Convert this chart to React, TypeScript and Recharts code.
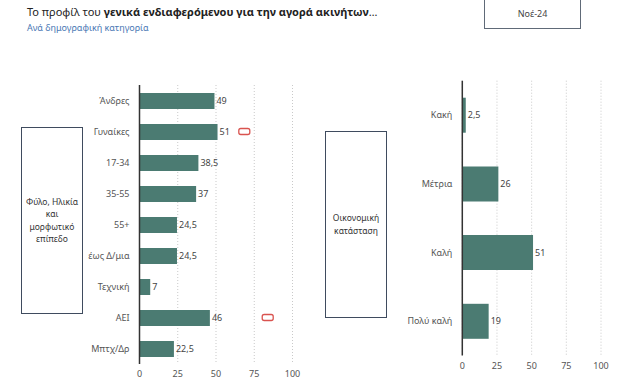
import { BarChart, Bar, XAxis, YAxis, CartesianGrid, LabelList, ReferenceDot } from "recharts";

const demoCategories = ["Άνδρες", "Γυναίκες", "17-34", "35-55", "55+", "έως Δ/μια", "Τεχνική", "ΑΕΙ", "Μπτχ/Δρ"];
const demoValues = [49, 51, 38.5, 37, 24.5, 24.5, 7, 46, 22.5];

const econCategories = ["Κακή", "Μέτρια", "Καλή", "Πολύ καλή"];
const econValues = [2.5, 26, 51, 19];

const xTicks = [0, 25, 50, 75, 100];

// small red markers next to some bars (category, value position)
const demoMarkers = [
  { category: "Γυναίκες", at: 68.5 },
  { category: "ΑΕΙ", at: 83.8 },
];

const BAR_COLOR = "#4b7b72";
const FONT = '"Noto Sans", sans-serif';

const demoData = demoCategories.map((name, i) => ({ name, value: demoValues[i] }));
const econData = econCategories.map((name, i) => ({ name, value: econValues[i] }));

const fmt = (v: any) => String(v).replace(".", ",");

const tickStyle = { fontSize: 9, fill: "#555", fontFamily: FONT };

const MarkerShape = (props: any) => (
  <rect
    x={props.cx - 5.5}
    y={props.cy - 3}
    width={11}
    height={6}
    rx={2}
    fill="none"
    stroke="#d9534f"
    strokeWidth={1.3}
  />
);

const HBarChart = ({
  data,
  width,
  height,
  margin,
  yWidth,
  barSize,
  markers = [],
}: {
  data: { name: string; value: number }[];
  width: number;
  height: number;
  margin: { top: number; right: number; bottom: number; left: number };
  yWidth: number;
  barSize: number;
  markers?: { category: string; at: number }[];
}) => (
  <BarChart layout="vertical" width={width} height={height} data={data} margin={margin}>
    <CartesianGrid horizontal={false} stroke="#c9c9c9" strokeDasharray="1 2" />
    <XAxis
      type="number"
      domain={[0, 100]}
      ticks={xTicks}
      axisLine={false}
      tickLine={false}
      tickSize={5}
      tickMargin={2}
      height={20}
      tick={tickStyle}
    />
    <YAxis
      type="category"
      dataKey="name"
      width={yWidth}
      axisLine={{ stroke: "#333", strokeWidth: 1.5 }}
      tickLine={false}
      tickSize={6}
      tickMargin={4}
      tick={tickStyle}
    />
    <Bar dataKey="value" fill={BAR_COLOR} barSize={barSize} isAnimationActive={false}>
      <LabelList
        dataKey="value"
        position="right"
        offset={2}
        formatter={fmt}
        style={{ fontSize: 9, fill: "#444", fontFamily: FONT }}
      />
    </Bar>
    {markers.map((m) => (
      <ReferenceDot key={m.category} x={m.at} y={m.category} r={4} shape={MarkerShape} />
    ))}
  </BarChart>
);

const sideBox = (left: number, top: number, w: number, h: number, lines: string[]) => (
  <div
    style={{
      position: "absolute",
      left,
      top,
      width: w,
      height: h,
      boxSizing: "border-box",
      border: "1.5px solid #3f4b5e",
      display: "flex",
      flexDirection: "column",
      alignItems: "center",
      justifyContent: "center",
      fontSize: 8.5,
      lineHeight: "12.5px",
      color: "#333",
      textAlign: "center",
    }}
  >
    {lines.map((l) => (
      <div key={l}>{l}</div>
    ))}
  </div>
);

export default function App() {
  return (
    <div
      style={{
        position: "absolute",
        left: 0,
        top: 0,
        width: 624,
        height: 391,
        background: "#fff",
        fontFamily: FONT,
        overflow: "hidden",
      }}
    >
      <div style={{ position: "absolute", left: 27, top: 5, fontSize: 11, lineHeight: "14px", color: "#222", whiteSpace: "nowrap" }}>
        Το προφίλ του <b>γενικά ενδιαφερόμενου για την αγορά ακινήτων</b>…
      </div>
      <div style={{ position: "absolute", left: 27, top: 22, fontSize: 9, lineHeight: "12px", color: "#4a78b4", whiteSpace: "nowrap" }}>
        Ανά δημογραφική κατηγορία
      </div>
      <div
        style={{
          position: "absolute",
          left: 484,
          top: -2,
          width: 97,
          height: 31,
          boxSizing: "border-box",
          border: "1.5px solid #606a78",
          display: "flex",
          alignItems: "center",
          justifyContent: "center",
          fontSize: 9,
          color: "#444",
        }}
      >
        Νοέ-24
      </div>

      {sideBox(21, 127, 62, 187, ["Φύλο, Ηλικία", "και", "μορφωτικό", "επίπεδο"])}
      {sideBox(325, 131, 62, 187, ["Οικονομική", "κατάσταση"])}

      <div style={{ position: "absolute", left: 0, top: 0 }}>
        <HBarChart
          data={demoData}
          width={310}
          height={391}
          margin={{ top: 85, right: 17.5, bottom: 7, left: 0 }}
          yWidth={139.5}
          barSize={16}
          markers={demoMarkers}
        />
      </div>
      <div style={{ position: "absolute", left: 320, top: 0 }}>
        <HBarChart
          data={econData}
          width={304}
          height={391}
          margin={{ top: 80.7, right: 23, bottom: 15.5, left: 0 }}
          yWidth={142.3}
          barSize={35}
        />
      </div>
    </div>
  );
}
